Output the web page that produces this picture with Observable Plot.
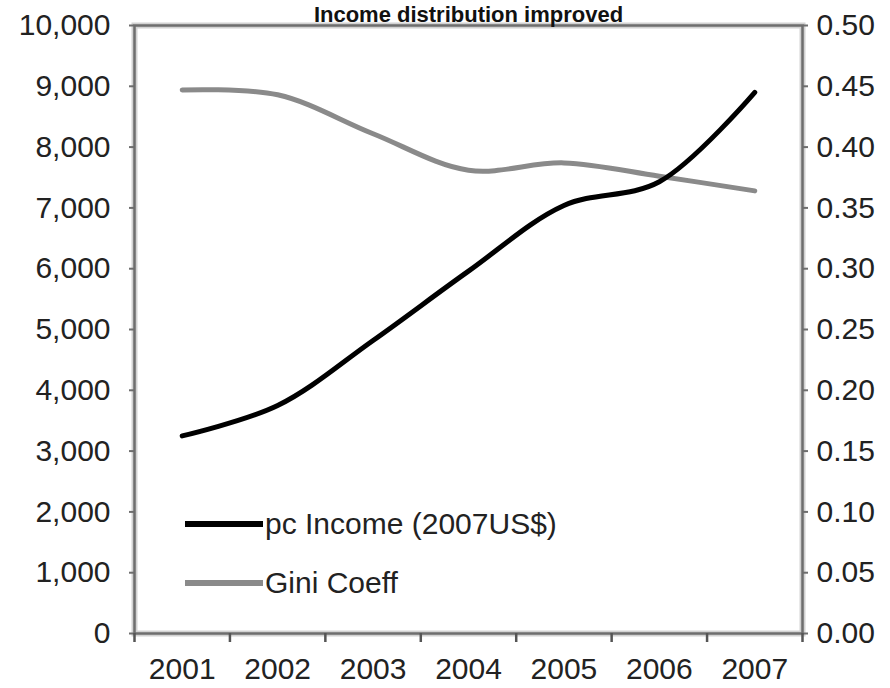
<!DOCTYPE html>
<html>
<head>
<meta charset="utf-8">
<script src="https://cdn.jsdelivr.net/npm/d3@7"></script>
<script src="https://cdn.jsdelivr.net/npm/@observablehq/plot@0.6"></script>
<style>
  html, body { margin: 0; padding: 0; background: #fff; }
  #wrap { position: relative; width: 890px; height: 688px; overflow: hidden; font-family: "Liberation Sans", Arial, sans-serif; }
  #legend { position: absolute; left: 185px; top: 0; font-size: 30px; color: #222; }
  .item { position: absolute; left: 0; display: flex; align-items: center; white-space: nowrap; }
  .sw { width: 78px; height: 6px; margin-right: 2px; }
</style>
</head>
<body>
<div id="wrap"><div id="chart"></div><div id="legend"></div></div>
<script>
const title = "Income distribution improved";
const years = [2001, 2002, 2003, 2004, 2005, 2006, 2007];
const income = [3250, 3750, 4820, 5960, 7040, 7430, 8900];
const gini = [0.447, 0.443, 0.411, 0.381, 0.387, 0.376, 0.364];
const incomeTicks = [0, 1000, 2000, 3000, 4000, 5000, 6000, 7000, 8000, 9000, 10000];
const giniTicks = [0, 0.05, 0.10, 0.15, 0.20, 0.25, 0.30, 0.35, 0.40, 0.45, 0.50];
const seriesNames = ["pc Income (2007US$)", "Gini Coeff"];
const seriesColors = ["#000000", "#8a8a8a"];

const giniToIncome = 10000 / 0.5;
const rows = years.map((yr, i) => ({ year: yr, income: income[i], gini: gini[i] }));
const bounds = d3.range(years.length + 1).map(i => years[0] - 0.5 + i);

const chart = Plot.plot({
  width: 890,
  height: 688,
  marginLeft: 134,
  marginRight: 88,
  marginTop: 25,
  marginBottom: 55,
  style: { fontFamily: "'Liberation Sans', Arial, sans-serif", fontSize: "30px", color: "#222", background: "#fff", overflow: "visible" },
  x: { type: "linear", domain: [bounds[0], bounds[bounds.length - 1]] },
  y: { domain: [0, 10000] },
  marks: [
    Plot.frame({ stroke: "#d2d2d2", strokeWidth: 6 }),
    Plot.frame({ stroke: "#6e6e6e", strokeWidth: 2.5 }),
    Plot.axisY({ anchor: "left", ticks: incomeTicks, tickSize: 5, tickPadding: 19, tickFormat: d3.format(","), label: null, stroke: "#6e6e6e", strokeWidth: 2 }),
    Plot.axisY({ anchor: "right", ticks: giniTicks.map(g => g * giniToIncome), tickSize: 5, tickPadding: 9, tickFormat: d => d3.format(".2f")(d / giniToIncome), label: null, stroke: "#6e6e6e", strokeWidth: 2 }),
    Plot.axisX({ anchor: "bottom", ticks: bounds, tickSize: 9, tickFormat: () => "", label: null, stroke: "#555", strokeWidth: 2.5 }),
    Plot.axisX({ anchor: "bottom", ticks: years, tickSize: 0, tickPadding: 24, tickFormat: d => String(d), label: null }),
    Plot.line(rows, { x: "year", y: d => d.gini * giniToIncome, stroke: seriesColors[1], strokeWidth: 5, curve: "catmull-rom" }),
    Plot.line(rows, { x: "year", y: "income", stroke: seriesColors[0], strokeWidth: 5, curve: "catmull-rom" }),
    Plot.text([title], { frameAnchor: "top", lineAnchor: "bottom", dy: -4, fontSize: 22, fontWeight: "bold", fill: "#111" })
  ]
});
document.getElementById("chart").appendChild(chart);

const legend = document.getElementById("legend");
const legendTops = [524, 583];
seriesNames.forEach((name, i) => {
  const item = document.createElement("div");
  item.className = "item";
  item.style.top = (legendTops[i] - 18) + "px";
  item.style.height = "36px";
  const sw = document.createElement("div");
  sw.className = "sw";
  sw.style.background = seriesColors[i];
  const label = document.createElement("span");
  label.textContent = name;
  item.appendChild(sw);
  item.appendChild(label);
  legend.appendChild(item);
});
</script>
</body>
</html>
